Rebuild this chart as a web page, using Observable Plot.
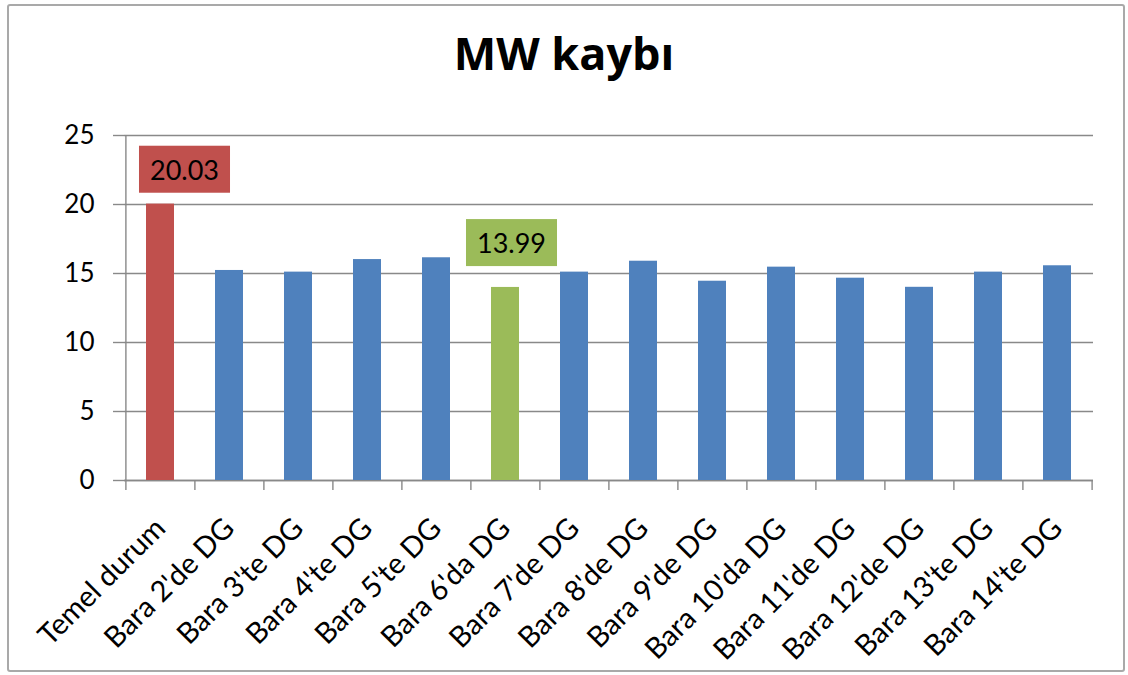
<!DOCTYPE html>
<html>
<head>
<meta charset="utf-8">
<script src="https://cdn.jsdelivr.net/npm/d3@7"></script>
<script src="https://cdn.jsdelivr.net/npm/@observablehq/plot@0.6"></script>
<style>
  html, body { margin: 0; padding: 0; background: #fff; }
  #wrap { position: relative; width: 1128px; height: 675px; overflow: hidden; background: #fff; }
  #border { position: absolute; left: 7px; top: 4px; width: 1118px; height: 668px; box-sizing: border-box;
            border: 2px solid #a9a9a9; border-radius: 3px; }
  #title { position: absolute; left: 0; top: 30px; width: 1128px; text-align: center;
           font: bold 45px "Open Sans", Lato, sans-serif; line-height: 45px; color: #000; }
  #chart { position: absolute; left: 0; top: 100px; }
</style>
</head>
<body>
<div id="wrap">
  <div id="border"></div>
  <div id="title">MW kaybı</div>
  <div id="chart"></div>
</div>
<script>
const categories = ["Temel durum", "Bara 2'de DG", "Bara 3'te DG", "Bara 4'te DG", "Bara 5'te DG",
  "Bara 6'da DG", "Bara 7'de DG", "Bara 8'de DG", "Bara 9'de DG", "Bara 10'da DG",
  "Bara 11'de DG", "Bara 12'de DG", "Bara 13'te DG", "Bara 14'te DG"];
const values = [20.03, 15.22, 15.10, 16.01, 16.14, 13.99, 15.10, 15.89, 14.44, 15.46, 14.66, 14.00, 15.10, 15.56];
const yTicks = [0, 5, 10, 15, 20, 25];
const kinds = ["Temel", "DG", "En iyi"];
const kindColors = ["#C0504D", "#4F81BD", "#9BBB59"];
const labelledCategories = ["Temel durum", "Bara 6'da DG"];

const minVal = d3.min(values.slice(1));
const data = categories.map((c, i) => ({
  cat: c, value: values[i],
  kind: i === 0 ? "Temel" : (values[i] === minVal ? "En iyi" : "DG")
}));

const W = 1128, H = 575, mL = 124, mR = 35, mT = 35, mB = 195;
const step = (W - mL - mR) / categories.length;
const grid = "#898989";
const font = "Lato, sans-serif";

const lab0 = data.filter(d => d.cat === labelledCategories[0]);
const lab1 = data.filter(d => d.cat === labelledCategories[1]);

const chart = Plot.plot({
  width: W, height: H,
  marginLeft: mL, marginRight: mR, marginTop: mT, marginBottom: mB,
  style: { fontFamily: font, background: "transparent", color: "#000" },
  x: { domain: categories, paddingInner: 0.6, paddingOuter: 0.3, label: null },
  y: { domain: [0, 25], label: null },
  color: { domain: kinds, range: kindColors },
  marks: [
    Plot.gridY(yTicks, { stroke: grid, strokeOpacity: 1, strokeWidth: 1.4 }),
    Plot.axisY(yTicks, { tickSize: 11, tickPadding: 19, stroke: grid, strokeWidth: 1.4, fontSize: 26, label: null }),
    Plot.ruleX([categories[0]], { y1: yTicks[0], y2: yTicks[yTicks.length - 1], dx: -step / 2, stroke: grid, strokeWidth: 1.4 }),
    Plot.ruleY([0], { stroke: grid, strokeWidth: 1.4 }),
    Plot.axisX(categories, { tickSize: 10, dx: -step / 2, stroke: grid, strokeWidth: 1.4, fill: "none", label: null }),
    Plot.axisX([categories[categories.length - 1]], { tickSize: 10, dx: step / 2, stroke: grid, strokeWidth: 1.4, fill: "none", label: null }),
    Plot.axisX(categories, { tickSize: 0, tickPadding: 43, tickRotate: -45, fontSize: 29, label: null }),
    Plot.barY(data, { x: "cat", y: "value", fill: "kind" }),
    Plot.text(lab0, { x: "cat", y: "value", text: d => d.value.toFixed(2), dx: 24, dy: -33, fontSize: 27, fill: "#000" }),
    Plot.text(lab1, { x: "cat", y: "value", text: d => d.value.toFixed(2), dx: 6, dy: -43, fontSize: 27, fill: "#000" })
  ]
});
document.getElementById("chart").appendChild(chart);

// boxes behind data labels, filled with the bar's colour
const colorScale = Plot.scale({ color: { domain: kinds, range: kindColors } });
const groups = chart.querySelectorAll('g[aria-label="text"]');
const labSets = [lab0, lab1];
groups.forEach((g, gi) => {
  g.querySelectorAll("text").forEach((t, ti) => {
    const bb = t.getBBox();
    const padX = 11, padY = 7;
    const r = document.createElementNS("http://www.w3.org/2000/svg", "rect");
    r.setAttribute("x", bb.x - padX);
    r.setAttribute("y", bb.y - padY);
    r.setAttribute("width", bb.width + 2 * padX);
    r.setAttribute("height", bb.height + 2 * padY);
    const tr = t.getAttribute("transform");
    if (tr) r.setAttribute("transform", tr);
    const d = labSets[gi] ? labSets[gi][ti] : null;
    r.setAttribute("fill", d ? colorScale.apply(d.kind) : "#ccc");
    t.parentNode.insertBefore(r, t);
  });
});
</script>
</body>
</html>
